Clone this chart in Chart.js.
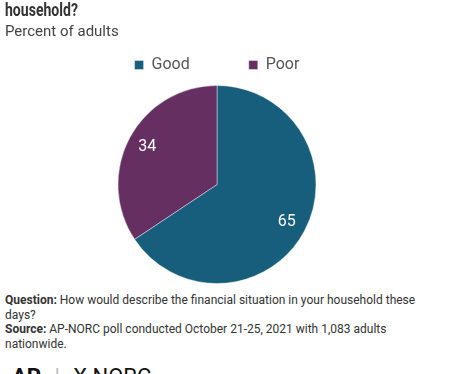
<!DOCTYPE html>
<html lang="en-us">
<head>
  <meta charset="utf-8">
  <script src="https://cdn.jsdelivr.net/npm/chart.js"></script>
  <title>Household finances</title>
  <style>
    body { margin: 0; width: 450px; height: 374px; overflow: hidden; background: #fff; font-family: Roboto, sans-serif; position: relative; }
    .title { position: absolute; left: 5px; top: 0px; font-size: 19px; line-height: 20px; font-weight: bold; color: #333; z-index: 2; transform: scaleX(0.74); transform-origin: left top; }
    .subtitle { position: absolute; left: 5px; top: 22px; font-size: 15px; color: #444; z-index: 2; }
    #chartBox { position: absolute; left: 0; top: -2px; width: 450px; height: 288px; }
    .notes { position: absolute; left: 5px; top: 293px; width: 420px; font-size: 12px; line-height: 14.5px; color: #333; }
    .logo { position: absolute; left: 12px; top: 364px; font-size: 22px; color: #111; white-space: nowrap; }
  </style>
</head>
<body>
  <div class="title">household?</div>
  <div class="subtitle">Percent of adults</div>
  <div id="chartBox"><canvas id="pieChart" width="450" height="288"></canvas></div>
  <div class="notes">
    <b>Question:</b> How would describe the financial situation in your household these days?<br>
    <b>Source:</b> AP-NORC poll conducted October 21-25, 2021 with 1,083 adults nationwide.
  </div>
  <div class="logo"><b>AP</b> <span style="color:#bbb;margin:0 8px">|</span> X NORC</div>
<script>
  const labels = ['Good', 'Poor'];
  const values = [65, 34];
  const colors = ['#175d7c', '#652f62'];

  // draw the value inside each slice
  const sliceLabels = {
    id: 'sliceLabels',
    afterDatasetsDraw(chart) {
      const ctx = chart.ctx;
      const meta = chart.getDatasetMeta(0);
      ctx.save();
      ctx.fillStyle = '#fff';
      ctx.font = '16px Roboto';
      ctx.textAlign = 'center';
      ctx.textBaseline = 'middle';
      meta.data.forEach((arc, i) => {
        const mid = (arc.startAngle + arc.endAngle) / 2;
        const d = arc.outerRadius * 0.8;
        ctx.fillText(values[i], arc.x + Math.cos(mid) * d, arc.y + Math.sin(mid) * d);
      });
      ctx.restore();
    }
  };

  new Chart(document.getElementById('pieChart'), {
    type: 'pie',
    data: {
      labels: labels,
      datasets: [{
        data: values,
        backgroundColor: colors,
        borderColor: 'rgba(255,255,255,0.6)',
        borderWidth: 0.7,
        radius: 99
      }]
    },
    options: {
      responsive: false,
      animation: false,
      layout: { padding: { left: 0, right: 16, top: 0, bottom: 0 } },
      plugins: {
        tooltip: { enabled: false },
        legend: {
          position: 'top',
          labels: {
            boxWidth: 9,
            boxHeight: 9,
            padding: 59,
            color: '#555',
            font: { family: 'Roboto', size: 16 }
          }
        }
      }
    },
    plugins: [sliceLabels]
  });
</script>
</body>
</html>
